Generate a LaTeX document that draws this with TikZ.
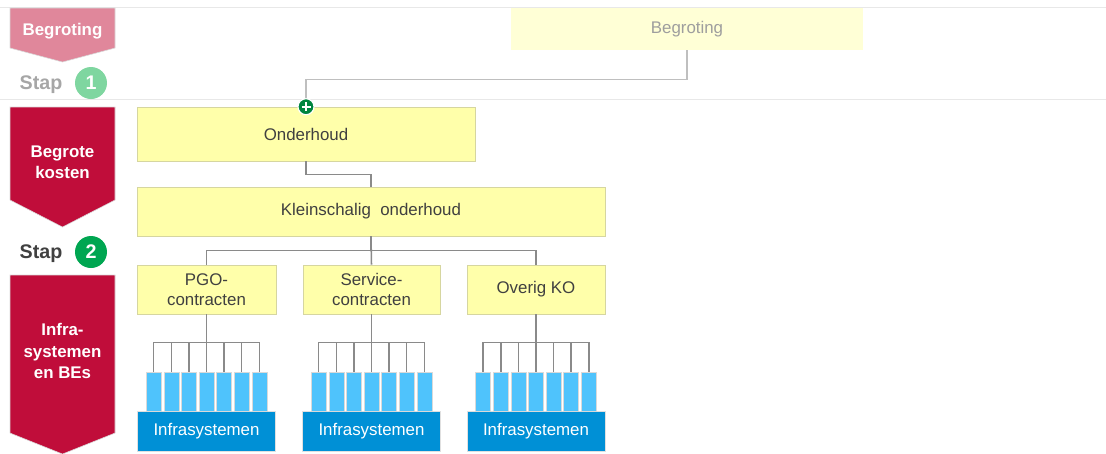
\documentclass[tikz,border=0pt]{standalone}
\usepackage{fontspec}
\setmainfont{Liberation Sans}
\usetikzlibrary{positioning}
\usetikzlibrary{arrows.meta}
\usetikzlibrary{calc}

\definecolor{bannerpink}{HTML}{E0879B}
\definecolor{bannerred}{HTML}{C00D3A}
\definecolor{stapgreen}{HTML}{00A651}
\definecolor{staplight}{HTML}{7FD6A0}
\definecolor{boxyellow}{HTML}{FFFFAA}
\definecolor{boxedge}{HTML}{D6D6A0}
\definecolor{paleyellow}{HTML}{FFFFD6}
\definecolor{textgrey}{HTML}{404040}
\definecolor{linegrey}{HTML}{8A8A8A}
\definecolor{lightblue}{HTML}{4FC3FC}
\definecolor{darkblue}{HTML}{0090D6}
\definecolor{plusgreen}{HTML}{00853F}

\newcommand{\pxu}{0.025cm}

\begin{document}
\begin{tikzpicture}[x=0.025cm, y=-0.025cm,
    font=\fontsize{12}{14}\selectfont,
    costbox/.style={draw=boxedge, fill=boxyellow, text=textgrey, align=center, inner sep=0pt},
    infrabar/.style={draw=black!15, fill=lightblue, minimum width=15*\pxu, minimum height=39*\pxu, inner sep=0pt},
    infrabox/.style={draw=black!12, fill=darkblue, text=white, minimum width=138*\pxu, minimum height=40*\pxu, inner sep=0pt},
    treeline/.style={draw=linegrey, line width=1.1pt},
    banner/.style={draw=white!85!black, line width=0.4pt},
    bannertext/.style={text=white, font=\fontsize{12}{15}\selectfont\bfseries, align=center},
    stapnum/.style={circle, minimum size=32*\pxu, inner sep=0pt, text=white, font=\fontsize{14}{16}\selectfont\bfseries}]

    \useasboundingbox (0,0) rectangle (1106,454);

    \draw[black!9, line width=0.6pt] (0,7) -- (1106,7);
    \draw[black!9, line width=0.6pt] (0,99) -- (1106,99);

    \filldraw[banner, fill=bannerpink] (10,8) -- (115,8) -- (115,48) -- (62.5,62) -- (10,48) -- cycle;
    \node[bannertext] (bannerA) at (62.5,31) {Begroting};
    \filldraw[banner, fill=bannerred] (10,107) -- (115,107) -- (115,200) -- (62.5,227) -- (10,200) -- cycle;
    \node[bannertext] (bannerB) at (62.5,162) {Begrote\\kosten};
    \filldraw[banner, fill=bannerred] (10,275) -- (115,275) -- (115,433) -- (62.5,454) -- (10,433) -- cycle;
    \node[bannertext] (bannerC) at (62.5,351) {Infra-\\systemen\\en BEs};

    \node[text=black!35, font=\fontsize{14}{16}\selectfont\bfseries] (stapA) at (41,85) {Stap};
    \node[stapnum, fill=staplight] (numA) at (91,83) {1};
    \node[text=textgrey, font=\fontsize{14}{16}\selectfont\bfseries] (stapB) at (41,254) {Stap};
    \node[stapnum, fill=stapgreen] (numB) at (91,252) {2};

    \node[fill=paleyellow, text=black!38, minimum width=352*\pxu, minimum height=42*\pxu, inner sep=0pt] (bgt) at (687,29) {Begroting};
    \node[costbox, minimum width=338*\pxu, minimum height=54*\pxu] (ond) at (306,134) {Onderhoud};
    \node[costbox, minimum width=468*\pxu, minimum height=49*\pxu] (kso) at (371,211.5) {Kleinschalig\ \ onderhoud};
    \node[costbox, minimum width=139*\pxu, minimum height=49*\pxu] (pgo) at (206.5,289.5) {PGO-\\contracten};
    \node[costbox, minimum width=137*\pxu, minimum height=49*\pxu] (svc) at (371.5,289.5) {Service-\\contracten};
    \node[costbox, minimum width=138*\pxu, minimum height=49*\pxu] (ovk) at (536,289.5) {Overig KO};

    \draw[draw=black!25, line width=1.1pt] (bgt.south) -- ++(0,29) -| (ond.north);
    \node[circle, fill=plusgreen, draw=white, line width=0.8pt, minimum size=16*\pxu, inner sep=0pt] (plus) at (ond.north) {};
    \draw[white, line width=1.3pt] ($(plus)+(-4.5,0)$) -- ($(plus)+(4.5,0)$);
    \draw[white, line width=1.3pt] ($(plus)+(0,-4.5)$) -- ($(plus)+(0,4.5)$);

    \draw[treeline] (ond.south) -- ++(0,13) -| (kso.north);
    \draw[treeline] (kso.south) -- ++(0,14) -| (pgo.north);
    \draw[treeline] (kso.south) -- ++(0,14) -| (ovk.north);
    \draw[treeline] (kso.south) -- (svc.north);

    \foreach \col in {pgo,svc,ovk}{
        \node[infrabox] (\col-infra) at (\col.center |- 0,431) {Infrasystemen};
        \foreach \i in {1,...,7}{
            \node[infrabar] (\col-\i) at ($(\col.center |- 0,391.5)+({(\i-4)*17.6},0)$) {};
            \draw[treeline] (\col.south) -- ++(0,28) -| (\col-\i.north);
        }
    }

\end{tikzpicture}
\end{document}
